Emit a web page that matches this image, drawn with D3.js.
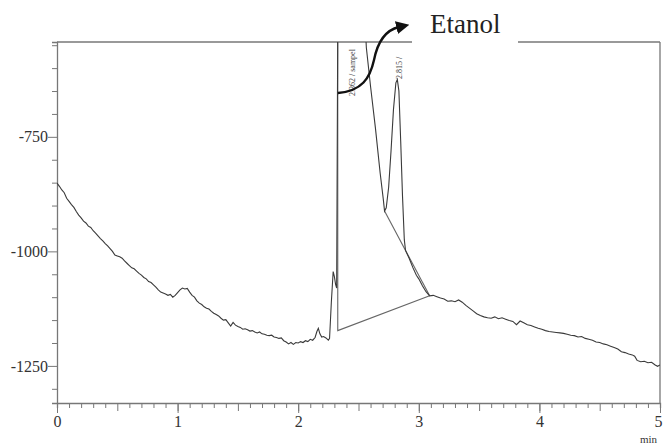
<!DOCTYPE html>
<html>
<head>
<meta charset="utf-8">
<script src="https://cdn.jsdelivr.net/npm/d3@7"></script>
<style>
  body { margin: 0; background: #fff; }
  svg { display: block; }
  svg text { font-family: "Liberation Serif", "Times New Roman", serif !important; }
</style>
</head>
<body>
<svg width="663" height="446"></svg>
<script>
var svg = d3.select("svg");

// retention time (min) and detector signal
var time = [0.00,0.02,0.04,0.06,0.08,0.10,0.12,0.14,0.16,0.18,0.20,0.22,0.24,0.26,0.28,0.30,0.32,0.34,0.36,0.38,
  0.40,0.42,0.44,0.46,0.48,0.50,0.52,0.54,0.56,0.58,0.60,0.62,0.64,0.66,0.68,0.70,0.72,0.74,0.76,0.78,
  0.80,0.82,0.84,0.86,0.88,0.90,0.92,0.94,0.96,0.98,1.00,1.02,1.04,1.06,1.08,1.10,1.12,1.14,1.16,1.18,
  1.20,1.22,1.24,1.26,1.28,1.30,1.32,1.34,1.36,1.38,1.40,1.42,1.44,1.46,1.48,1.50,1.52,1.54,1.56,1.58,
  1.60,1.62,1.64,1.66,1.68,1.70,1.72,1.74,1.76,1.78,1.80,1.82,1.84,1.86,1.88,1.90,1.92,1.94,1.96,1.98,
  2.00,2.02,2.04,2.06,2.08,2.10,2.12,2.14,2.155,2.167,2.18,2.195,2.21,2.23,2.25,2.26,2.275,2.29,2.30,2.31,
  2.319,2.328,2.555,2.565,2.60,2.64,2.68,2.705,2.716,2.73,2.75,2.77,2.79,2.81,2.822,2.835,2.85,2.865,2.88,2.89,
  2.92,2.95,2.98,3.00,3.03,3.06,3.09,3.12,3.15,3.18,3.21,3.24,3.27,3.30,3.33,3.36,3.39,3.42,3.45,3.48,
  3.51,3.54,3.57,3.60,3.63,3.66,3.69,3.72,3.75,3.78,3.81,3.84,3.87,3.90,3.93,3.96,3.99,4.02,4.05,4.08,
  4.11,4.14,4.17,4.20,4.23,4.26,4.29,4.32,4.35,4.38,4.41,4.44,4.47,4.50,4.53,4.56,4.59,4.62,4.65,4.68,
  4.71,4.74,4.77,4.79,4.81,4.84,4.87,4.90,4.93,4.96,4.98,5.00];
var signal = [-851,-858,-866,-872,-884,-891,-898,-904,-913,-921,-927,-934,-938,-945,-948,-955,-960,-966,-972,-977,
  -983,-988,-994,-1000,-1008,-1010,-1012,-1015,-1021,-1026,-1031,-1036,-1038,-1043,-1048,-1052,-1057,-1060,-1066,-1068,
  -1073,-1078,-1084,-1089,-1091,-1093,-1096,-1094,-1100,-1096,-1090,-1084,-1080,-1082,-1081,-1089,-1096,-1100,-1108,-1113,
  -1116,-1121,-1124,-1126,-1131,-1135,-1138,-1141,-1146,-1150,-1149,-1156,-1163,-1155,-1161,-1164,-1166,-1170,-1169,-1171,
  -1174,-1173,-1176,-1178,-1176,-1180,-1181,-1183,-1184,-1183,-1187,-1188,-1190,-1189,-1195,-1198,-1202,-1199,-1203,-1199,
  -1200,-1197,-1199,-1195,-1197,-1192,-1194,-1188,-1175,-1168,-1180,-1187,-1186,-1189,-1194,-1190,-1110,-1044,-1055,-1072,
  -1080,-500,-500,-555,-640,-730,-830,-885,-912,-905,-860,-780,-690,-632,-625,-650,-760,-880,-975,-998,
  -1015,-1035,-1052,-1060,-1075,-1088,-1097,-1096,-1099,-1102,-1104,-1109,-1108,-1110,-1106,-1111,-1118,-1124,-1130,-1136,
  -1140,-1143,-1145,-1146,-1143,-1147,-1145,-1148,-1151,-1153,-1160,-1152,-1156,-1160,-1162,-1165,-1168,-1170,-1173,-1175,
  -1176,-1177,-1178,-1179,-1181,-1183,-1184,-1187,-1186,-1190,-1192,-1194,-1198,-1199,-1202,-1204,-1207,-1210,-1213,-1219,
  -1221,-1224,-1226,-1229,-1238,-1241,-1240,-1243,-1242,-1248,-1251,-1248];

// integration baselines / drop line
var baselines = [
  [[2.328,-500],[2.328,-1173],[3.09,-1097]],
  [[2.716,-912],[3.09,-1097]]
];

var peakLabels = [
  {text: "2.362 / sampel", bottom: 96, x: 352},
  {text: "2.815 /", bottom: 79, x: 399}
];

var yTicks = d3.range(-550, -1301, -50);
var yLabels = [-750, -1000, -1250];
var xMajor = [0, 1, 2, 3, 4, 5];
var xMinor = d3.range(0, 5.001, 0.1);

var x = d3.scaleLinear().domain([0, 5]).range([57, 660]);
var y = d3.scaleLinear().domain([-543, -1331]).range([42, 403]);

svg.append("clipPath").attr("id", "plot")
  .append("rect").attr("x", 57).attr("y", 42).attr("width", 603).attr("height", 361);

// frame
var frame = svg.append("g").attr("stroke", "#777").attr("stroke-width", 1.3);
frame.append("line").attr("x1", 57).attr("x2", 412).attr("y1", 42).attr("y2", 42);
frame.append("line").attr("x1", 518).attr("x2", 660).attr("y1", 42).attr("y2", 42);
frame.append("line").attr("x1", 660).attr("x2", 660).attr("y1", 42).attr("y2", 403);

// left axis
var yAxis = svg.append("g").attr("transform", "translate(57,0)")
  .call(d3.axisLeft(y).tickValues(yTicks).tickSize(5)
    .tickFormat(function(d) { return yLabels.indexOf(d) >= 0 ? d : ""; }));
yAxis.attr("font-size", 16);
yAxis.select(".domain").attr("stroke", "#777").attr("stroke-width", 1.3);
yAxis.selectAll(".tick line").attr("stroke", "#777")
  .attr("x2", function(d) { return yLabels.indexOf(d) >= 0 ? -9 : -5; });
yAxis.selectAll(".tick text").attr("x", -9).attr("fill", "#333");

// bottom axis
var xAxisMinor = svg.append("g").attr("transform", "translate(0,403)")
  .call(d3.axisBottom(x).tickValues(xMinor).tickSize(5).tickFormat(""));
xAxisMinor.select(".domain").attr("stroke", "#777").attr("stroke-width", 1.3);
xAxisMinor.selectAll(".tick line").attr("stroke", "#777")
  .attr("y2", function(d) { return Math.abs(d * 2 - Math.round(d * 2)) < 0.01 ? 8 : 5; });

var xAxis = svg.append("g").attr("transform", "translate(0,403)")
  .call(d3.axisBottom(x).tickValues(xMajor).tickSize(10).tickPadding(3).tickFormat(d3.format("d")));
xAxis.attr("font-size", 16);
xAxis.select(".domain").remove();
xAxis.selectAll(".tick line").attr("stroke", "#777");
xAxis.selectAll(".tick text").attr("fill", "#333")
  .attr("dx", function(d) { return d === 5 ? -2 : 0; });

svg.append("text").attr("x", 640).attr("y", 443).text("min")
  .style("font-size", "11px").attr("fill", "#333");

// trace
var pts = time.map(function(t, i) { return [t, signal[i]]; });
var line = d3.line().x(function(d) { return x(d[0]); }).y(function(d) { return y(d[1]); });

var plot = svg.append("g").attr("clip-path", "url(#plot)");
baselines.forEach(function(b) {
  plot.append("path").attr("d", line(b)).attr("fill", "none")
    .attr("stroke", "#666").attr("stroke-width", 1.1);
});
plot.append("path").attr("d", line(pts)).attr("fill", "none")
  .attr("stroke", "#3a3a3a").attr("stroke-width", 1.1);

// peak labels
peakLabels.forEach(function(p) {
  svg.append("text")
    .attr("transform", "translate(" + p.x + "," + p.bottom + ") rotate(-90)")
    .attr("dy", "0.35em")
    .text(p.text)
    .style("font-size", "8px").attr("fill", "#444");
});

// annotation arrow
svg.append("defs").append("marker")
  .attr("id", "head").attr("viewBox", "0 0 10 10").attr("refX", 2).attr("refY", 5)
  .attr("markerWidth", 5.5).attr("markerHeight", 5.5).attr("orient", "auto")
  .append("path").attr("d", "M0,0 L10,5 L0,10 Z").attr("fill", "#111");

svg.append("path")
  .attr("d", "M338,93 C362,91 370,78 374,60 C378,40 386,30 399,27")
  .attr("fill", "none").attr("stroke", "#111").attr("stroke-width", 2.4)
  .attr("marker-end", "url(#head)");

svg.append("text").attr("x", 430).attr("y", 33).text("Etanol")
  .style("font-size", "27px").attr("fill", "#222");
</script>
</body>
</html>
